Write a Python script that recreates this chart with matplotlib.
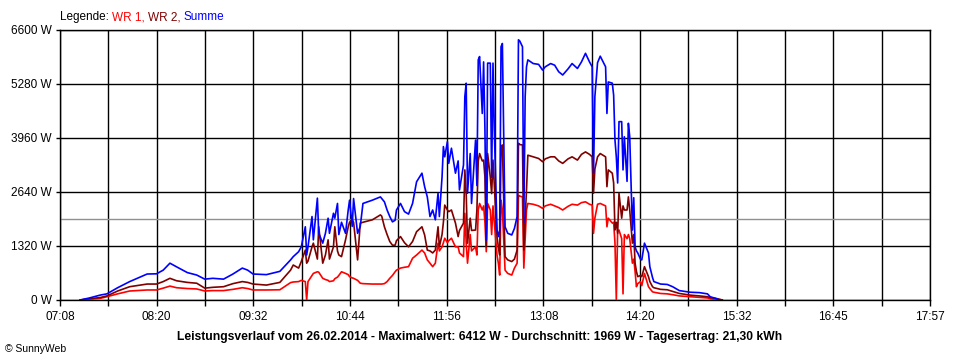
import numpy as np
import pandas as pd
import matplotlib
matplotlib.use("Agg")
import matplotlib.pyplot as plt

plt.rcParams['font.family'] = ['Liberation Sans', 'DejaVu Sans']

# Messzeitpunkte (Uhrzeit)
zeiten = [
    "07:23", "07:30", "07:38", "07:43", "07:51", "08:00", "08:13", "08:20", "08:25", "08:30",
    "08:35", "08:43", "08:50", "08:56", "09:02", "09:10", "09:17", "09:24", "09:28", "09:32",
    "09:42", "09:52", "10:00", "10:02", "10:06", "10:08", "10:11", "10:12", "10:13", "10:16",
    "10:17", "10:20", "10:21", "10:24", "10:26", "10:28", "10:29", "10:32", "10:33", "10:35",
    "10:36", "10:38", "10:41", "10:43", "10:44", "10:46", "10:47", "10:50", "10:52", "10:54",
    "11:01", "11:07", "11:08", "11:10", "11:12", "11:14", "11:16", "11:18", "11:19", "11:22",
    "11:25", "11:28", "11:31", "11:34", "11:38", "11:40", "11:42", "11:44", "11:46", "11:48",
    "11:50", "11:51", "11:53", "11:54", "11:55", "11:57", "11:58", "12:00", "12:03", "12:05",
    "12:06", "12:09", "12:10", "12:11", "12:12", "12:14", "12:15", "12:18", "12:19", "12:20",
    "12:21", "12:23", "12:24", "12:25", "12:26", "12:27", "12:29", "12:30", "12:31", "12:32",
    "12:34", "12:35", "12:36", "12:37", "12:38", "12:40", "12:42", "12:45", "12:47", "12:49",
    "12:50", "12:51", "12:53", "12:54", "12:55", "12:56", "12:57", "13:01", "13:05", "13:08",
    "13:10", "13:14", "13:17", "13:20", "13:23", "13:27", "13:30", "13:34", "13:37", "13:40",
    "13:43", "13:45", "13:46", "13:47", "13:49", "13:51", "13:55", "13:56", "13:57", "14:00",
    "14:01", "14:02", "14:03", "14:04", "14:05", "14:07", "14:08", "14:09", "14:11", "14:12",
    "14:13", "14:15", "14:16", "14:17", "14:18", "14:19", "14:21", "14:22", "14:24", "14:27",
    "14:28", "14:30", "14:31", "14:36", "14:41", "14:45", "14:50", "14:58", "15:05", "15:11",
    "15:13", "15:17", "15:20", "15:22",
]

# Leistung in W
summe = [
    0, 50, 120, 150, 300, 450, 635, 640, 730, 900,
    810, 670, 610, 510, 530, 510, 635, 780, 730, 635,
    620, 700, 980, 1060, 1180, 1300, 1790, 1100, 1300, 2040,
    1470, 2490, 1630, 1390, 1630, 2000, 1630, 2120, 2000, 2360,
    1600, 1900, 1630, 2200, 2440, 1800, 2480, 1630, 1800, 2360,
    2440, 2520, 2480, 2400, 2200, 2040, 1910, 1950, 2200, 2360,
    2160, 2100, 2360, 2890, 3100, 2770, 2520, 2040, 2200, 1960,
    2610, 2040, 3010, 3750, 3500, 3870, 3340, 3710, 3100, 3400,
    2690, 3300, 4970, 5300, 2610, 3580, 2360, 3910, 2800, 5870,
    5950, 4560, 5820, 4150, 1470, 5790, 5790, 3000, 5790, 4150,
    1710, 1550, 1710, 6190, 6270, 1790, 1630, 1590, 1750, 2040,
    6360, 6330, 6190, 1900, 4970, 5700, 5870, 5780, 5760, 5620,
    5700, 5780, 5740, 5580, 5500, 5650, 5780, 5660, 5820, 6030,
    5820, 5700, 3100, 4970, 5800, 5960, 5700, 4560, 5330, 5300,
    5010, 3910, 3500, 2860, 4360, 4360, 3180, 3990, 2900, 4320,
    3990, 1710, 2500, 1300, 1200, 1150, 1000, 980, 1390, 1150,
    815, 550, 450, 390, 380, 325, 230, 190, 180, 150,
    80, 40, 0, 0,
]

wr2 = [
    0, 30, 60, 100, 220, 325, 390, 390, 450, 530,
    470, 430, 410, 290, 310, 325, 400, 450, 430, 390,
    365, 430, 730, 855, 780, 940, 1220, 900, 950, 1300,
    1390, 1000, 1790, 900, 1100, 1470, 1000, 1300, 1790, 1200,
    1100, 1060, 1470, 1790, 1900, 1960, 1900, 980, 1880, 1900,
    1960, 2080, 2050, 1790, 1600, 1430, 1340, 1340, 1450, 1550,
    1400, 1300, 1430, 1670, 1790, 1590, 1220, 1200, 1150, 1220,
    1790, 1300, 1600, 1900, 2320, 2200, 2160, 2200, 1880, 1550,
    1700, 1880, 3180, 2610, 1390, 2000, 1700, 1710, 2200, 3400,
    3580, 3400, 3420, 3000, 1300, 3580, 3000, 2600, 3420, 2800,
    1550, 1300, 1100, 3750, 3790, 1060, 980, 940, 1000, 1220,
    3830, 3800, 3790, 1220, 2000, 2690, 3540, 3500, 3460, 3380,
    3450, 3500, 3500, 3400, 3340, 3450, 3500, 3420, 3560, 3620,
    3560, 3500, 2610, 3200, 3500, 3580, 3500, 2770, 3180, 3100,
    2860, 1710, 1900, 1630, 2610, 2000, 2300, 2200, 2200, 2520,
    2200, 1390, 1600, 900, 700, 570, 600, 570, 815, 570,
    450, 325, 300, 260, 250, 210, 160, 120, 100, 80,
    60, 40, 20, 0,
]

wr1 = [
    0, 20, 40, 80, 150, 220, 245, 245, 290, 340,
    300, 280, 270, 220, 230, 230, 260, 300, 280, 245,
    245, 250, 425, 440, 450, 480, 450, 0, 450, 600,
    650, 690, 680, 530, 500, 480, 450, 470, 520, 560,
    600, 690, 650, 620, 570, 540, 530, 480, 410, 400,
    390, 390, 390, 400, 450, 530, 600, 690, 730, 780,
    800, 815, 1020, 1100, 1220, 1150, 980, 900, 815, 900,
    1390, 1200, 1300, 1400, 1510, 1400, 1450, 1510, 1300, 1300,
    1150, 1060, 2120, 1400, 900, 1600, 1200, 1300, 1100, 2200,
    2360, 2200, 2300, 1900, 1180, 2360, 2200, 1600, 2300, 1900,
    1100, 900, 610, 2440, 2200, 730, 650, 610, 780, 900,
    2560, 2540, 2520, 780, 1500, 2200, 2360, 2340, 2300, 2240,
    2300, 2340, 2300, 2260, 2200, 2290, 2340, 2320, 2380, 2400,
    2340, 2320, 1630, 2000, 2340, 2360, 2300, 1790, 2000, 1880,
    1900, 1390, 0, 1700, 1710, 1500, 150, 1600, 1500, 1600,
    1500, 900, 1000, 700, 325, 400, 450, 350, 650, 325,
    280, 200, 190, 160, 150, 130, 100, 80, 60, 50,
    30, 15, 0, 0,
]

achsen_zeiten = ["07:08", "08:20", "09:32", "10:44", "11:56",
                 "13:08", "14:20", "15:32", "16:45", "17:57"]
y_werte = [0, 1320, 2640, 3960, 5280, 6600]
durchschnitt = 1969

titel = ("Leistungsverlauf vom 26.02.2014 - Maximalwert: 6412 W - "
         "Durchschnitt: 1969 W - Tagesertrag: 21,30 kWh")
legende_teile = ["Legende: ", "WR 1, ", "WR 2, ", "Summe"]
legende_farben = ["black", "#ff0000", "#800000", "#0000ff"]


def minuten(s):
    h, m = s.split(":")
    return int(h) * 60 + int(m)


t = np.array([minuten(s) for s in zeiten])
t0 = minuten(achsen_zeiten[0])
t1 = minuten(achsen_zeiten[-1])

fig = plt.figure(figsize=(9.6, 3.6), dpi=100)
ax = fig.add_axes([60 / 960, 60 / 360, 870 / 960, 270 / 360])

# Raster
haupt = np.linspace(t0, t1, len(achsen_zeiten))
neben = np.linspace(t0, t1, 2 * len(achsen_zeiten) - 1)
for x in neben:
    ax.axvline(x, color="black", lw=1, zorder=1)
for y in y_werte:
    ax.axhline(y, color="black", lw=1, zorder=1)
ax.axhline(durchschnitt, color="#909090", lw=1, zorder=1)

ax.plot(t, wr1, color="#ff0000", lw=1.2, zorder=3)
ax.plot(t, wr2, color="#800000", lw=1.2, zorder=4)
ax.plot(t, summe, color="#0000ff", lw=1.2, zorder=5)

ax.set_xlim(t0, t1)
ax.set_ylim(0, 6600)
ax.set_xticks(haupt, achsen_zeiten)
ax.set_xticks(neben, minor=True)
ax.set_yticks(y_werte, [f"{v} W" for v in y_werte])
ax.tick_params(axis="x", which="both", length=4, width=1, pad=4,
               labelsize=8.5, direction="out")
ax.tick_params(axis="y", length=3, width=1, pad=3, labelsize=8.5)
for sp in ax.spines.values():
    sp.set_color("black")
    sp.set_linewidth(1)

fig.text(0.5, 1 - 337 / 360, titel, ha="center", va="center",
         fontsize=8.7, fontweight="bold")
fig.text(5 / 960, 1 - 349 / 360, "© SunnyWeb", ha="left", va="center",
         fontsize=7.5)

# Legende oben links, farbig zusammengesetzt
fig.canvas.draw()
r = fig.canvas.get_renderer()
xpos = 60 / 960
for teil, farbe in zip(legende_teile, legende_farben):
    txt = fig.text(xpos, 1 - 17 / 360, teil, color=farbe, ha="left",
                   va="center", fontsize=8.5)
    bb = txt.get_window_extent(r)
    xpos = bb.x1 / fig.bbox.width

fig.savefig("out.png", dpi=100)
